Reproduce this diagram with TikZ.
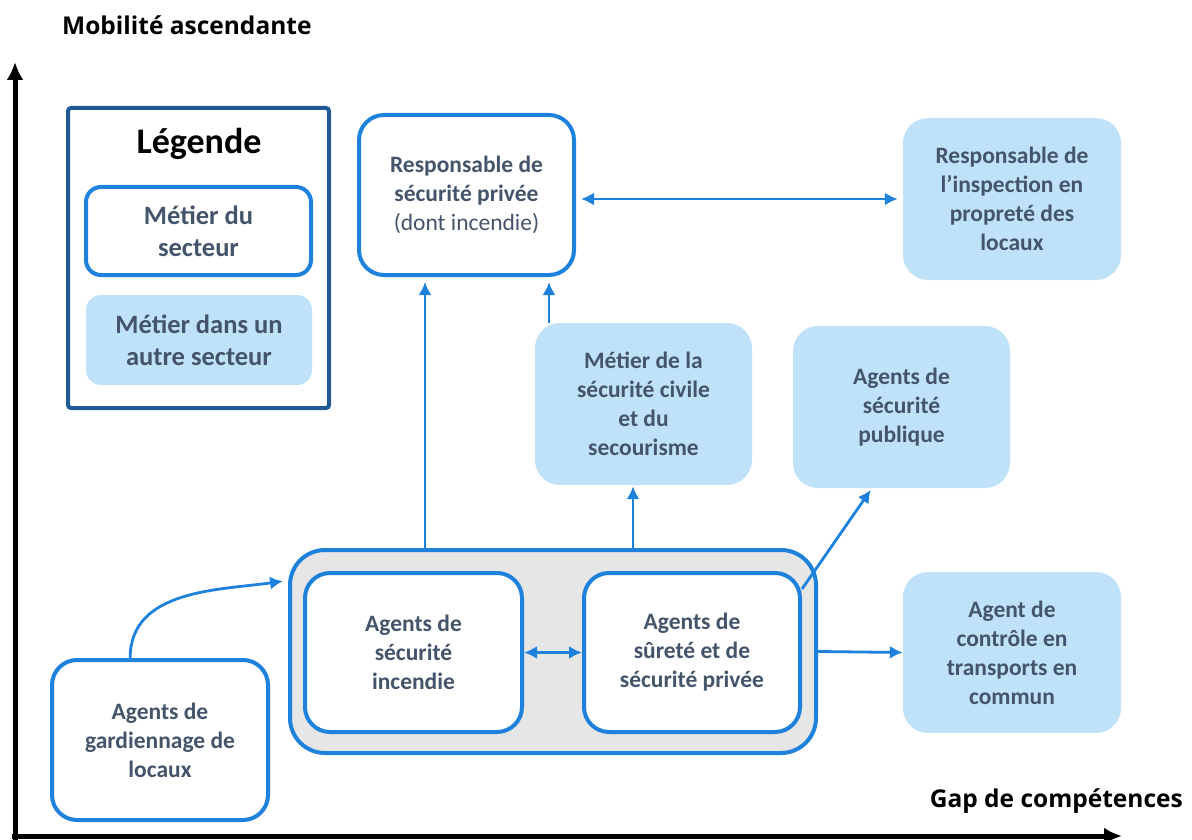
\documentclass[tikz,border=0pt]{standalone}
\usepackage{fontspec}
\setmainfont{Carlito}
\newfontfamily\axisfont{Open Sans}
\usepackage{tikz}
\usetikzlibrary{positioning, arrows.meta}
\definecolor{boxblue}{HTML}{1E82DC}
\definecolor{lightfill}{HTML}{BFE2F8}
\definecolor{framedark}{HTML}{1F5A96}
\definecolor{textgrey}{HTML}{44546A}
\definecolor{groupgrey}{HTML}{E6E6E6}
\tikzstyle{line} = [draw=boxblue, line width=2.8pt, -{Latex[length=13pt,width=13pt]}]
\tikzstyle{axis} = [draw=black, line width=5pt, -{Latex[length=18pt,width=17pt]}]
\tikzstyle{sector} = [rectangle, draw=boxblue, line width=4pt, fill=white,
    rounded corners=25pt, align=center, inner sep=0pt, text=textgrey,
    font=\fontsize{23.5}{29}\selectfont\bfseries]
\tikzstyle{other} = [rectangle, fill=lightfill, rounded corners=25pt,
    align=center, inner sep=0pt, text=textgrey,
    font=\fontsize{23.5}{29}\selectfont\bfseries]
\tikzstyle{legendtext} = [font=\fontsize{26.5}{32}\selectfont\bfseries, rounded corners=15pt]
\tikzstyle{axislabel} = [inner sep=0pt, font=\axisfont\fontsize{24.5}{28}\selectfont\bfseries]

\begin{document}
\begin{tikzpicture}[x=1pt, y=-1pt]
      \useasboundingbox (0,0) rectangle (1192,840);

      % axes
      \coordinate (ytop) at (15,62);
      \coordinate (xend) at (1122,836);
      \draw[axis] (15,842) -- (ytop);
      \draw[axis] (12,836) -- (xend);
      \node[axislabel, anchor=west] (ylabel) at (62,25) {Mobilité ascendante};
      \node[axislabel, anchor=east] (xlabel) at (1183,801) {Gap de compétences};

      % legende
      \node[rectangle, draw=framedark, line width=4pt, rounded corners=3pt,
            minimum width=261pt, minimum height=300pt] (legend) at (198.5,258) {};
      \node[font=\fontsize{36}{40}\selectfont\bfseries] (legendtitle) at (199,144) {Légende};
      \node[sector, legendtext, minimum width=225pt, minimum height=88pt] (legsector) at (198.5,231) {Métier du\\secteur};
      \node[other, legendtext, minimum width=226pt, minimum height=90pt] (legother) at (199,340) {Métier dans un\\autre secteur};

      % metiers
      \node[sector, minimum width=215pt, minimum height=160pt] (resp) at (466.5,195)
            {Responsable de\\sécurité privée\\{\mdseries (dont incendie)}};
      \node[other, minimum width=218pt, minimum height=162pt] (insp) at (1012,199)
            {Responsable de\\l’inspection en\\propreté des\\locaux};
      \node[other, minimum width=217pt, minimum height=162pt] (civil) at (643.5,404)
            {Métier de la\\sécurité civile\\et du\\secourisme};
      \node[other, minimum width=217pt, minimum height=162pt] (publique) at (901.5,407)
            {Agents de\\sécurité\\publique};
      \node[sector, draw=boxblue, fill=groupgrey, rounded corners=35pt,
            minimum width=526pt, minimum height=203pt] (group) at (553,651.5) {};
      \node[sector, minimum width=217pt, minimum height=159pt] (incendie) at (413.5,652.5)
            {Agents de\\sécurité\\incendie};
      \node[sector, minimum width=216pt, minimum height=159pt] (surete) at (692,652.5)
            {Agents de\\sûreté et de\\sécurité privée};
      \node[other, minimum width=218pt, minimum height=161pt] (controle) at (1012,652.5)
            {Agent de\\contrôle en\\transports en\\commun};
      \node[sector, minimum width=216pt, minimum height=160pt] (gardien) at (160,740)
            {Agents de\\gardiennage de\\locaux};

      % connecteurs
      \coordinate (xa) at (425,0);
      \coordinate (xb) at (549,0);
      \coordinate (xc) at (633,0);
      \path [line, shorten >=5pt] (group.north -| xa) -- (resp.south -| xa);
      \path [line, shorten >=5pt] (civil.north -| xb) -- (resp.south -| xb);
      \path [line, shorten >=1pt] (group.north -| xc) -- (civil.south -| xc);
      \path [line, {Latex[length=13pt,width=13pt]}-{Latex[length=13pt,width=13pt]}, shorten <=5pt, shorten >=5pt] (resp.east |- insp.west) -- (insp.west);
      \path [line, {Latex[length=13pt,width=13pt]}-{Latex[length=13pt,width=13pt]}] (incendie.east) -- (surete.west);
      \path [line] (group.east) -- (controle.west);
      \path [line, shorten >=2pt] (surete.30) -- (publique.250);
      \path [line, shorten >=5pt] (gardien.110) to[out=90, in=188] (group.165);
\end{tikzpicture}
\end{document}
